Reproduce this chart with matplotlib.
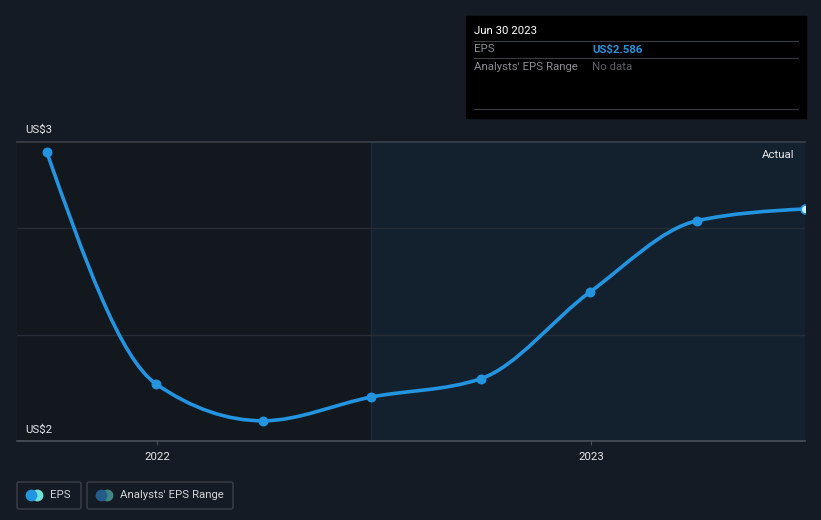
import matplotlib.pyplot as plt
import matplotlib.dates as mdates
import numpy as np
import pandas as pd
from matplotlib.path import Path
from matplotlib.patches import PathPatch, Rectangle, FancyBboxPatch

plt.rcParams['font.family'] = ['Roboto', 'DejaVu Sans']

# данные EPS по кварталам
dates = ['2021-09-30', '2021-12-31', '2022-03-31', '2022-06-30',
         '2022-09-30', '2022-12-31', '2023-03-31', '2023-06-30']
eps = [2.730, 2.144, 2.051, 2.111, 2.157, 2.376, 2.556, 2.586]
x_ticks = ['2022-01-01', '2023-01-01']
x_tick_labels = ['2022', '2023']

bg = '#151b24'
blue = '#2394df'
fs = 8.2

x = mdates.date2num(pd.to_datetime(dates))
y = np.array(eps)

fig = plt.figure(figsize=(8.21, 5.2), dpi=100, facecolor=bg)
ax = fig.add_axes([17 / 821, 79 / 520, 788 / 821, 299 / 520])
ax.set_facecolor('#13171e')

x_left = mdates.date2num(pd.Timestamp('2021-09-05'))
ax.set_xlim(x_left, x[-1])
ax.set_ylim(2.0, 2.755)

# подсветка последнего года
ax.axvspan(x[3], x[-1], color='#13212f', zorder=0)
ax.axvline(x[3], color='#1d2a38', lw=1, zorder=1)

# сетка
for gy in [2.268, 2.538]:
    ax.axhline(gy, color='#262d37', lw=1, zorder=1)
ax.axhline(2.755, color='#3b414a', lw=1.2, zorder=1, clip_on=False)

for s in ['top', 'right', 'left']:
    ax.spines[s].set_visible(False)
ax.spines['bottom'].set_color('#4b5059')
ax.spines['bottom'].set_linewidth(1.2)

ax.set_yticks([])
ax.set_xticks(mdates.date2num(pd.to_datetime(x_ticks)))
ax.set_xticklabels(x_tick_labels, color='#e6e8eb', fontsize=fs)
ax.tick_params(axis='x', length=3, color='#4b5059', pad=5)

# гладкая монотонная кривая (как curveMonotoneX) через Безье
h = np.diff(x)
d = np.diff(y) / h
m = np.zeros_like(y)
for i in range(1, len(y) - 1):
    if d[i - 1] * d[i] <= 0:
        m[i] = 0
    else:
        p = (d[i - 1] * h[i] + d[i] * h[i - 1]) / (h[i - 1] + h[i])
        m[i] = np.sign(d[i]) * min(abs(p), 2 * abs(d[i - 1]), 2 * abs(d[i]))
m[0] = (3 * d[0] - m[1]) / 2
m[-1] = (3 * d[-1] - m[-2]) / 2
verts = [(x[0], y[0])]
codes = [Path.MOVETO]
for i in range(len(x) - 1):
    dx = h[i] / 3
    verts += [(x[i] + dx, y[i] + m[i] * dx), (x[i + 1] - dx, y[i + 1] - m[i + 1] * dx), (x[i + 1], y[i + 1])]
    codes += [Path.CURVE4] * 3
ax.add_patch(PathPatch(Path(verts, codes), fc='none', ec=blue, lw=2.6, zorder=3, clip_on=False))

ax.scatter(x[:-1], y[:-1], s=38, color=blue, zorder=4, clip_on=False)
ax.scatter(x[-1:], y[-1:], s=40, facecolor='#cdeeff', edgecolor=blue, lw=1.2, zorder=5)

ax.text(0.987, 0.955, 'Actual', transform=ax.transAxes, ha='right', va='center',
        color='#e6e8eb', fontsize=fs)

# подписи оси Y
fig.text(25 / 821, 1 - 130 / 520, 'US$3', color='#e6e8eb', fontsize=fs, va='center')
fig.text(25 / 821, 1 - 430 / 520, 'US$2', color='#e6e8eb', fontsize=fs, va='center')

# всплывающая подсказка
fig.patches.append(Rectangle((466 / 821, 1 - 118 / 520), 340 / 821, 102 / 520,
                             transform=fig.transFigure, color='black', zorder=5))
for ly in [41, 58, 109]:
    fig.add_artist(plt.Line2D([474 / 821, 798 / 821], [1 - ly / 520] * 2,
                              transform=fig.transFigure, color='#3a3d42', lw=0.8, zorder=6))
fig.text(474 / 821, 1 - 31.5 / 520, 'Jun 30 2023', color='white', fontsize=fs,
         va='center', zorder=7)
fig.text(474 / 821, 1 - 49.5 / 520, 'EPS', color='#8a8d92', fontsize=fs, va='center', zorder=7)
fig.text(592 / 821, 1 - 49.5 / 520, 'US$2.586', color=blue, fontsize=fs, va='center',
         fontweight='bold', zorder=7)
fig.text(474 / 821, 1 - 67 / 520, "Analysts' EPS Range", color='#8a8d92', fontsize=fs,
         va='center', zorder=7)
fig.text(592 / 821, 1 - 67 / 520, 'No data', color='#5d6066', fontsize=fs, va='center', zorder=7)

# легенда
for (lx, lw_, c1, c2, label) in [(17, 64, blue, '#6fe3d9', 'EPS'),
                                 (87, 146, '#255d8a', '#3f8584', "Analysts' EPS Range")]:
    fig.patches.append(FancyBboxPatch((lx / 821, 1 - 509 / 520), lw_ / 821, 27 / 520,
                                      boxstyle='round,pad=0,rounding_size=0.003',
                                      transform=fig.transFigure, fc='none', ec='#3b4049', lw=1))
    fig.add_artist(plt.Line2D([(lx + 20) / 821], [1 - 495 / 520], marker='o', ms=8.5,
                              color=c2, mec='none', transform=fig.transFigure))
    fig.add_artist(plt.Line2D([(lx + 14) / 821], [1 - 495 / 520], marker='o', ms=8.5,
                              color=c1, mec='none', transform=fig.transFigure))
    fig.text((lx + 33) / 821, 1 - 495 / 520, label, color='#d0d3d8', fontsize=fs, va='center')

fig.savefig('out.png', dpi=100, facecolor=bg)
